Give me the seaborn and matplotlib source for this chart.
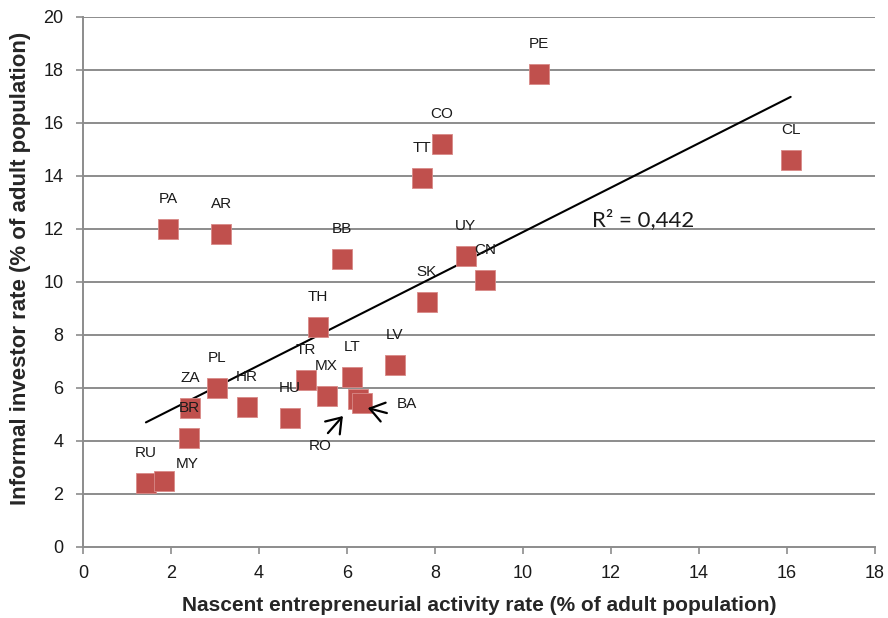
import numpy as np
import pandas as pd
import matplotlib
matplotlib.use("Agg")
import matplotlib.pyplot as plt
from matplotlib.transforms import offset_copy
import seaborn as sns

# Country codes and rates (% of adult population)
countries = ["RU", "MY", "BR", "ZA", "PL", "HR", "HU", "TR", "MX", "LT", "RO", "BA",
             "LV", "TH", "BB", "PA", "AR", "SK", "UY", "CN", "TT", "CO", "PE", "CL"]
nascent = [1.43, 1.84, 2.41, 2.43, 3.05, 3.73, 4.70, 5.07, 5.54, 6.11, 6.25, 6.34,
           7.09, 5.34, 5.89, 1.93, 3.14, 7.82, 8.70, 9.14, 7.70, 8.16, 10.36, 16.09]
informal = [2.42, 2.49, 4.11, 5.25, 6.00, 5.28, 4.87, 6.30, 5.70, 6.42, 5.58, 5.43,
            6.87, 8.30, 10.87, 12.00, 11.81, 9.25, 10.98, 10.08, 13.92, 15.20, 17.85, 14.60]
r2_text = "R² = 0,442"

x_ticks = list(range(0, 19, 2))
y_ticks = list(range(0, 21, 2))

df = pd.DataFrame({"country": countries, "nascent": nascent, "informal": informal})

sns.set_theme(style="white")
plt.rcParams["font.family"] = ["Liberation Sans", "DejaVu Sans"]

fig = plt.figure(figsize=(8.88, 6.18), dpi=100)
ax = fig.add_axes([0.0935, 0.115, 0.8915, 0.8575])

grid_color = "#8c8c8c"
for yv in y_ticks[1:]:
    ax.axhline(yv, color=grid_color, lw=1.4, zorder=0)

# Linear trend across the data range
sns.regplot(data=df, x="nascent", y="informal", scatter=False, ci=None,
            truncate=True, ax=ax, line_kws=dict(color="black", lw=1.5, zorder=2))

sns.scatterplot(data=df, x="nascent", y="informal", marker="s", s=210,
                color="#C0504D", edgecolor="#d98a88", linewidth=0.6, ax=ax, zorder=3)

label_font = dict(fontsize=11, color="#1a1a1a", zorder=4)

# Point labels sit above their markers; a few are shifted to avoid clashes
label_offsets = {"MY": (16.6, 12.2)}
callouts = {
    "RO": dict(label=(-27.4, -33.8), tail=(-21.6, -24.5), tip=(-10.8, -12.2)),
    "BA": dict(label=(32.4, -0.7), tail=(18.0, -7.2), tip=(4.3, -3.6)),
}
for c, xv, yv in zip(countries, nascent, informal):
    if c in callouts:
        spec = callouts[c]
        ax.annotate(c, (xv, yv), xytext=spec["label"], textcoords="offset points",
                    ha="center", va="center", **label_font)
        tip_tr = offset_copy(ax.transData, fig=fig, x=spec["tip"][0], y=spec["tip"][1], units="points")
        tail_tr = offset_copy(ax.transData, fig=fig, x=spec["tail"][0], y=spec["tail"][1], units="points")
        ax.annotate("", xy=(xv, yv), xycoords=tip_tr, xytext=(xv, yv), textcoords=tail_tr,
                    arrowprops=dict(arrowstyle="->,head_length=0.5,head_width=0.35",
                                    color="black", lw=1.6, shrinkA=0, shrinkB=0,
                                    mutation_scale=20), zorder=5)
    else:
        ax.annotate(c, (xv, yv), xytext=label_offsets.get(c, (0, 21.5)),
                    textcoords="offset points", ha="center", va="center", **label_font)

ax.text(11.57, 12.34, r2_text, ha="left", va="center", fontsize=16,
        family=["Lato", "DejaVu Sans"], color="#1a1a1a")

ax.set_xlim(0, 18)
ax.set_ylim(0, 20)
ax.set_xticks(x_ticks)
ax.set_yticks(y_ticks)
ax.tick_params(axis="both", which="major", direction="out", length=5, width=1.2,
               color=grid_color, labelsize=13, labelcolor="#1a1a1a",
               bottom=True, left=True)
ax.tick_params(axis="x", pad=8)
ax.tick_params(axis="y", pad=9)

for side in ["top", "right"]:
    ax.spines[side].set_visible(False)
for side in ["left", "bottom"]:
    ax.spines[side].set_color(grid_color)
    ax.spines[side].set_linewidth(1.4)

ax.set_xlabel("Nascent entrepreneurial activity rate (% of adult population)",
              fontsize=15, fontweight="bold")
ax.set_ylabel("Informal investor rate (% of adult population)",
              fontsize=16, fontweight="bold")
ax.xaxis.set_label_coords(0.5, -0.092)
ax.yaxis.set_label_coords(-0.066, 0.526)

fig.savefig("out.png", dpi=100)
